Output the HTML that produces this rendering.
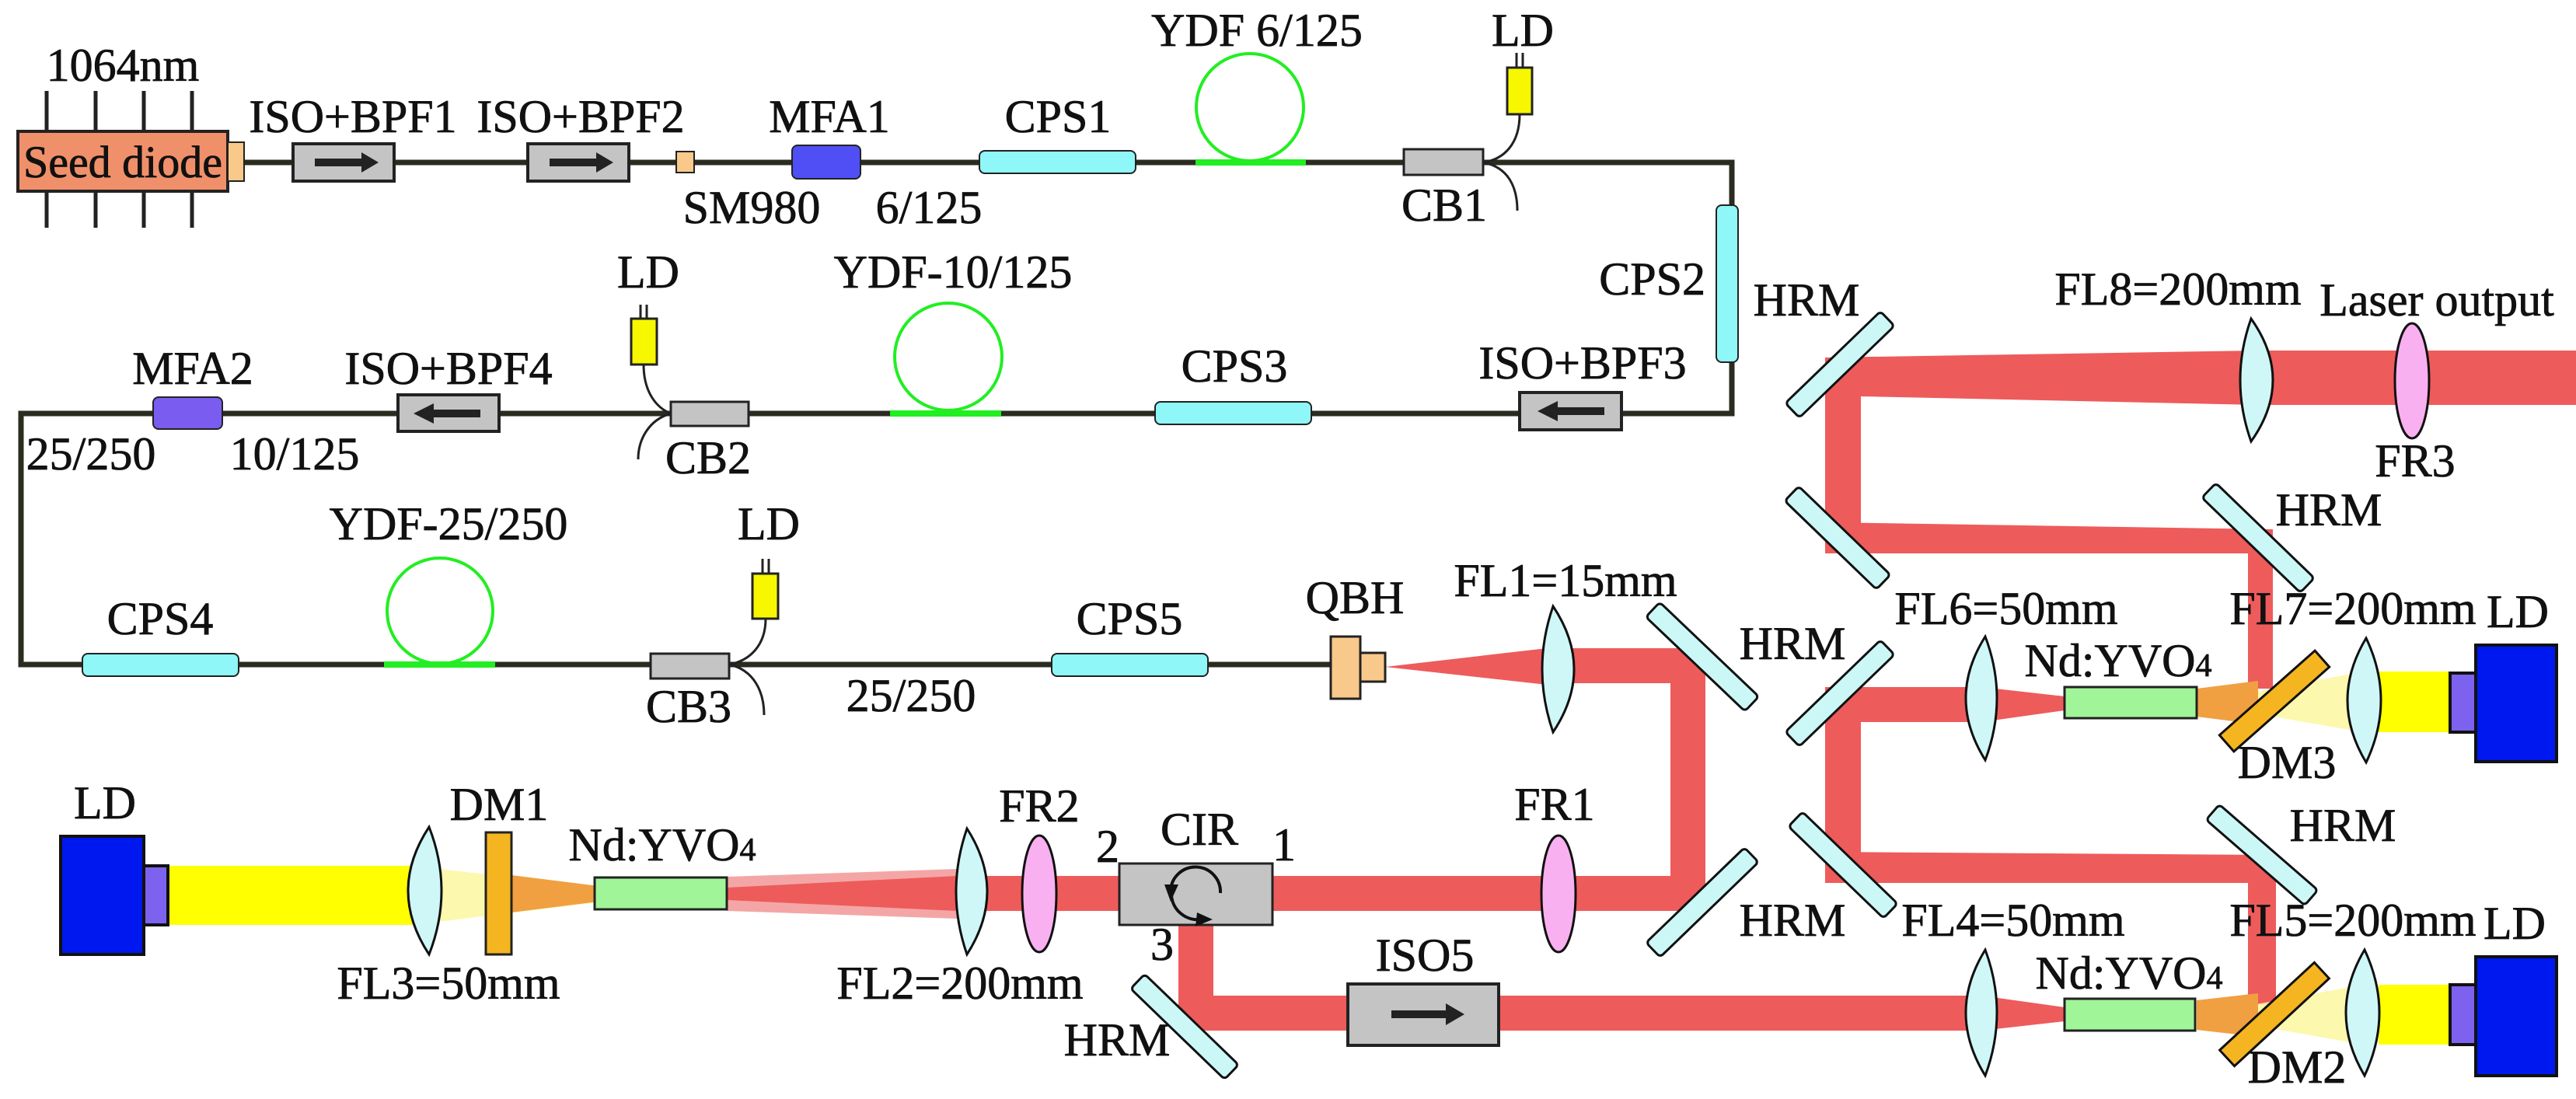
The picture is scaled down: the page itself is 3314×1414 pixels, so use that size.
<!DOCTYPE html>
<html><head><meta charset="utf-8"><style>
html,body{margin:0;padding:0;background:#fff;}
svg{display:block;}
text{font-family:"Liberation Serif","Times New Roman","DejaVu Serif",serif;font-size:60px;fill:#111;stroke:#111;stroke-width:0.8;text-anchor:middle;}
</style></head><body>
<svg width="3314" height="1414" viewBox="0 0 3314 1414" xmlns="http://www.w3.org/2000/svg" font-family="Liberation Serif, Times New Roman, DejaVu Serif, serif">
<rect width="3314" height="1414" fill="#fff"/>

<!-- ===== Beams ===== -->
<g fill="#ee5b5b" stroke="none">
  <polygon points="2348,460 2905,451 3314,451 3314,521 2905,521 2394,510 2348,510"/>
  <rect x="2348" y="460" width="46" height="252"/>
  <polygon points="2348,672 2924,681 2924,712 2348,712"/>
  <rect x="2892" y="681" width="32" height="205"/>
  <rect x="2350" y="884" width="200" height="45"/>
  <polygon points="2549,884 2656,896 2656,914 2549,929"/>
  <rect x="2348" y="884" width="46" height="252"/>
  <polygon points="2348,1096 2928,1100 2928,1136 2348,1136"/>
  <rect x="2892" y="1100" width="36" height="192"/>
  <rect x="1516" y="1180" width="45" height="146"/>
  <rect x="1516" y="1281" width="1034" height="45"/>
  <polygon points="2549,1281 2656,1296 2656,1314 2549,1326"/>
  <polygon points="1782,858 1990,834 1990,881"/>
  <rect x="1988" y="834" width="206" height="45"/>
  <rect x="2149" y="834" width="45" height="338"/>
  <rect x="1250" y="1127" width="944" height="45"/>
</g>
<polygon points="935,1128 1231,1118 1231,1182 935,1172" fill="#f4a6a6"/>
<polygon points="935,1142 1231,1127 1231,1172 935,1158" fill="#ee5b5b"/>

<rect x="216" y="1114" width="316" height="76" fill="#ffff00"/>
<rect x="3060" y="864" width="95" height="78" fill="#ffff00"/>
<rect x="3060" y="1267" width="95" height="77" fill="#ffff00"/>

<!-- ===== Fiber ===== -->
<path d="M314,209 H2228 V532 H27 V855 H1712" fill="none" stroke="#2b2b20" stroke-width="7"/>
<g stroke="#22ee22" stroke-width="8">
  <line x1="1538" y1="209" x2="1680" y2="209"/>
  <line x1="1145" y1="532" x2="1288" y2="532"/>
  <line x1="494" y1="855" x2="637" y2="855"/>
</g>
<g fill="none" stroke="#22ee22" stroke-width="4">
  <circle cx="1608" cy="138" r="69"/>
  <circle cx="1220" cy="459" r="69"/>
  <circle cx="566" cy="786" r="68"/>
</g>

<g fill="none" stroke="#222" stroke-width="3">
  <path d="M1955,147 C1955,185 1935,205 1908,209"/>
  <path d="M1908,209 C1940,215 1952,240 1952,271"/>
  <path d="M828,469 C828,505 845,525 863,532"/>
  <path d="M863,532 C835,540 821,565 821,591"/>
  <path d="M985,796 C985,830 965,850 938,855"/>
  <path d="M938,855 C970,862 983,890 983,920"/>
  <line x1="1951" y1="68" x2="1951" y2="87"/><line x1="1959" y1="68" x2="1959" y2="87"/>
  <line x1="824" y1="392" x2="824" y2="410"/><line x1="832" y1="392" x2="832" y2="410"/>
  <line x1="981" y1="719" x2="981" y2="738"/><line x1="989" y1="719" x2="989" y2="738"/>
</g>

<!-- ===== Seed diode ===== -->
<g stroke="#222" stroke-width="5">
  <line x1="60" y1="117" x2="60" y2="293"/><line x1="123" y1="117" x2="123" y2="293"/>
  <line x1="185" y1="117" x2="185" y2="293"/><line x1="247" y1="117" x2="247" y2="293"/>
</g>
<rect x="23" y="169" width="270" height="77" fill="#f0906a" stroke="#222" stroke-width="4"/>
<rect x="293" y="183" width="21" height="50" fill="#f8c98a" stroke="#222" stroke-width="2"/>
<text x="158" y="228" style="font-size:58px">Seed diode</text>

<g stroke="#222" stroke-width="4">
  <rect x="377" y="185" width="130" height="48" fill="#c4c4c4"/>
  <rect x="679" y="185" width="130" height="48" fill="#c4c4c4"/>
  <rect x="1955" y="505" width="131" height="48" fill="#c4c4c4"/>
  <rect x="512" y="508" width="130" height="47" fill="#c4c4c4"/>
  <rect x="1734" y="1266" width="194" height="79" fill="#c4c4c4"/>
  <rect x="870" y="195" width="23" height="27" fill="#f8c98a" stroke-width="2"/>
  <rect x="1019" y="187" width="88" height="43" rx="7" fill="#4f4ff5" stroke-width="2"/>
  <rect x="197" y="511" width="89" height="41" rx="7" fill="#7b5cf0" stroke-width="2"/>
  <rect x="1260" y="194" width="201" height="29" rx="7" fill="#8ff7f7" stroke-width="2"/>
  <rect x="2208" y="264" width="28" height="202" rx="7" fill="#8ff7f7" stroke-width="2"/>
  <rect x="1486" y="517" width="201" height="29" rx="7" fill="#8ff7f7" stroke-width="2"/>
  <rect x="106" y="841" width="201" height="29" rx="7" fill="#8ff7f7" stroke-width="2"/>
  <rect x="1353" y="841" width="201" height="29" rx="7" fill="#8ff7f7" stroke-width="2"/>
  <rect x="1806" y="192" width="102" height="33" fill="#c4c4c4" stroke-width="3"/>
  <rect x="863" y="517" width="100" height="31" fill="#c4c4c4" stroke-width="3"/>
  <rect x="837" y="841" width="101" height="32" fill="#c4c4c4" stroke-width="3"/>
  <rect x="1939" y="87" width="32" height="60" fill="#f7f700" stroke-width="3"/>
  <rect x="812" y="410" width="33" height="59" fill="#f7f700" stroke-width="3"/>
  <rect x="968" y="738" width="33" height="58" fill="#f7f700" stroke-width="3"/>
  <rect x="1712" y="819" width="38" height="80" fill="#f8c98a" stroke-width="3"/>
  <rect x="1750" y="840" width="32" height="37" fill="#f8c98a" stroke-width="3"/>
  <rect x="1440" y="1111" width="197" height="79" fill="#c4c4c4" stroke-width="3"/>
</g>

<g fill="#222">
  <path d="M405,204 H465 V196 L487,209 L465,222 V214 H405 Z"/>
  <path d="M707,204 H767 V196 L789,209 L767,222 V214 H707 Z"/>
  <path d="M2064,524 H2004 V516 L1978,529 L2004,542 V534 H2064 Z"/>
  <path d="M618,527 H558 V519 L532,532 L558,545 V537 H618 Z"/>
  <path d="M1790,1300 H1860 V1291 L1884,1305 L1860,1319 V1310 H1790 Z"/>
</g>
<g fill="none" stroke="#111" stroke-width="4">
  <path d="M1570,1149 A32,32 0 1 0 1506,1146"/>
  <path d="M1507,1152 A34,34 0 0 0 1545,1183"/>
</g>
<polygon points="1498,1138 1516,1138 1506,1160" fill="#111"/>
<polygon points="1540,1174 1560,1183 1538,1192" fill="#111"/>

<polygon points="530,1114 530,1190 852,1151" fill="#fbf7a0" opacity="0.85"/>
<polygon points="3040,864 3040,942 2826,905" fill="#fbf7a0" opacity="0.85"/>
<polygon points="3040,1267 3040,1344 2826,1306" fill="#fbf7a0" opacity="0.85"/>
<polygon points="658,1126 770,1140 770,1160 658,1174" fill="#f0a040"/>
<polygon points="2826,886 2905,876 2905,932 2826,922" fill="#f0a040"/>
<polygon points="2826,1287 2905,1278 2905,1334 2826,1325" fill="#f0a040"/>

<g stroke="#222" stroke-width="3" fill="#a0f598">
  <rect x="765" y="1129" width="170" height="41"/>
  <rect x="2656" y="884" width="170" height="40"/>
  <rect x="2656" y="1285" width="168" height="41"/>
</g>
<rect x="625" y="1071" width="33" height="157" fill="#f5b520" stroke="#222" stroke-width="3"/>

<!-- lenses -->
<g fill="#cff7f7" stroke="#111" stroke-width="3">
  <path d="M1998,780 Q1970,861 1998,942 Q2052,861 1998,780 Z"/>
  <path d="M2896,410 Q2868,489 2896,568 Q2952,489 2896,410 Z"/>
  <path d="M2554,819 Q2504,898 2554,978 Q2584,898 2554,819 Z"/>
  <path d="M2554,1222 Q2504,1303 2554,1384 Q2584,1303 2554,1222 Z"/>
  <path d="M3044,821 Q2996,901 3044,981 Q3082,901 3044,821 Z"/>
  <path d="M3042,1222 Q2994,1303 3042,1384 Q3080,1303 3042,1222 Z"/>
  <path d="M552,1064 Q498,1146 552,1228 Q584,1146 552,1064 Z"/>
  <path d="M1244,1066 Q1216,1147 1244,1228 Q1296,1147 1244,1066 Z"/>
</g>
<g fill="#f9b0f0" stroke="#111" stroke-width="3">
  <ellipse cx="2005" cy="1150" rx="22" ry="75"/>
  <ellipse cx="1337" cy="1150" rx="22" ry="75"/>
  <ellipse cx="3103" cy="490" rx="22" ry="74"/>
</g>

<g fill="#ccf7f7" stroke="#111" stroke-width="3">
  <rect x="-85" y="-13" width="170" height="26" rx="5" transform="translate(2367,469) rotate(-44)"/>
  <rect x="-82" y="-13" width="164" height="26" rx="5" transform="translate(2364,692) rotate(44)"/>
  <rect x="-88" y="-13" width="176" height="26" rx="5" transform="translate(2190,845) rotate(43.6)"/>
  <rect x="-88" y="-13" width="176" height="26" rx="5" transform="translate(2190,1161) rotate(-44)"/>
  <rect x="-85" y="-13" width="170" height="26" rx="5" transform="translate(2367,892) rotate(-44)"/>
  <rect x="-85" y="-13" width="170" height="26" rx="5" transform="translate(2371,1113) rotate(44)"/>
  <rect x="-88" y="-13" width="176" height="26" rx="5" transform="translate(2905,692) rotate(44)"/>
  <rect x="-84" y="-13" width="168" height="26" rx="5" transform="translate(2910,1100) rotate(41)"/>
  <rect x="-84" y="-13" width="168" height="26" rx="5" transform="translate(1524,1321) rotate(44)"/>
</g>
<g fill="#f5b520" stroke="#111" stroke-width="3">
  <rect x="-82" y="-14" width="164" height="28" transform="translate(2926,902) rotate(-41.5)"/>
  <rect x="-83" y="-14" width="166" height="28" transform="translate(2926,1305) rotate(-42.8)"/>
</g>

<g stroke="#111" stroke-width="4">
  <rect x="78" y="1076" width="107" height="152" fill="#0018f0"/>
  <rect x="185" y="1114" width="31" height="76" fill="#7d62f0"/>
  <rect x="3185" y="830" width="104" height="150" fill="#0018f0"/>
  <rect x="3152" y="866" width="33" height="76" fill="#7d62f0"/>
  <rect x="3185" y="1231" width="104" height="153" fill="#0018f0"/>
  <rect x="3152" y="1267" width="33" height="77" fill="#7d62f0"/>
</g>

<!-- ===== Labels ===== -->
<g font-family="Liberation Serif, Times New Roman, DejaVu Serif, serif">
<text x="158" y="104">1064nm</text>
<text x="454" y="170">ISO+BPF1</text>
<text x="747" y="170">ISO+BPF2</text>
<text x="1067" y="170">MFA1</text>
<text x="1361" y="170">CPS1</text>
<text x="1617" y="59">YDF 6/125</text>
<text x="1959" y="59">LD</text>
<text x="967" y="287">SM980</text>
<text x="1195" y="287">6/125</text>
<text x="1858" y="284">CB1</text>
<text x="2194" y="379" style="text-anchor:end">CPS2</text>
<text x="2036" y="487">ISO+BPF3</text>
<text x="1588" y="491">CPS3</text>
<text x="1226" y="370">YDF-10/125</text>
<text x="834" y="370">LD</text>
<text x="911" y="609">CB2</text>
<text x="577" y="494">ISO+BPF4</text>
<text x="248" y="494">MFA2</text>
<text x="117" y="604">25/250</text>
<text x="379" y="604">10/125</text>
<text x="577" y="694">YDF-25/250</text>
<text x="989" y="694">LD</text>
<text x="206" y="816">CPS4</text>
<text x="886" y="929">CB3</text>
<text x="1172" y="915">25/250</text>
<text x="1453" y="816">CPS5</text>
<text x="1743" y="789">QBH</text>
<text x="2014" y="767">FL1=15mm</text>
<text x="2324" y="406">HRM</text>
<text x="2802" y="392">FL8=200mm</text>
<text x="3135" y="406">Laser output</text>
<text x="3107" y="613">FR3</text>
<text x="2996" y="676">HRM</text>
<text x="2306" y="848">HRM</text>
<text x="2581" y="803">FL6=50mm</text>
<text x="3027" y="803">FL7=200mm</text>
<text x="3239" y="807">LD</text>
<text x="2725" y="870">Nd:YVO<tspan style="font-size:42px">4</tspan></text>
<text x="2942" y="1001">DM3</text>
<text x="3014" y="1082">HRM</text>
<text x="2306" y="1204">HRM</text>
<text x="2590" y="1204">FL4=50mm</text>
<text x="3027" y="1204">FL5=200mm</text>
<text x="3235" y="1208">LD</text>
<text x="2739" y="1272">Nd:YVO<tspan style="font-size:42px">4</tspan></text>
<text x="2955" y="1393">DM2</text>
<text x="2000" y="1055">FR1</text>
<text x="1543" y="1087">CIR</text>
<text x="1425" y="1109">2</text>
<text x="1652" y="1107">1</text>
<text x="1495" y="1235">3</text>
<text x="1833" y="1249">ISO5</text>
<text x="1437" y="1358">HRM</text>
<text x="135" y="1053">LD</text>
<text x="642" y="1055">DM1</text>
<text x="852" y="1107">Nd:YVO<tspan style="font-size:42px">4</tspan></text>
<text x="577" y="1285">FL3=50mm</text>
<text x="1337" y="1057">FR2</text>
<text x="1235" y="1285">FL2=200mm</text>
</g>
</svg>
</body></html>
